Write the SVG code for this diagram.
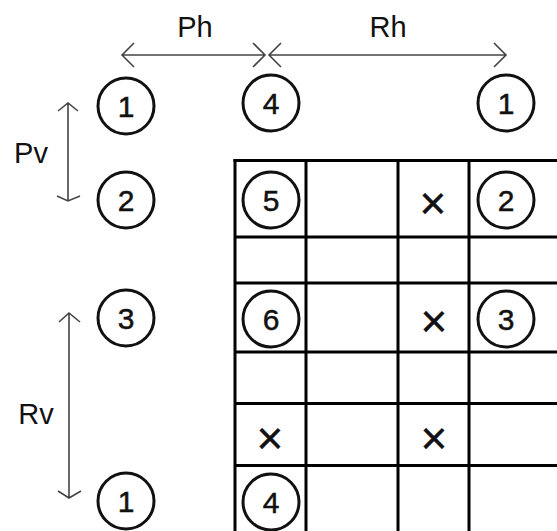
<svg xmlns="http://www.w3.org/2000/svg" width="557" height="531" viewBox="0 0 557 531">
  <style>
    .lbl { font-family: "Liberation Sans", Arial, sans-serif; font-size: 29px; fill: #111; text-anchor: middle; }
    .num { font-family: "Liberation Sans", Arial, sans-serif; font-size: 30px; fill: #111; stroke: #111; stroke-width: 0.5; text-anchor: middle; }
    .cross { font-family: "Liberation Sans", Arial, sans-serif; font-size: 46px; fill: #111; stroke: #111; stroke-width: 0.4; text-anchor: middle; }
    .ring { fill: none; stroke: #111; stroke-width: 3; }
    .grid line { stroke: #000; stroke-width: 3; }
    .dim { fill: none; stroke: #444; stroke-width: 1.6; }
  </style>
  <rect width="557" height="531" fill="#fff"/>

  <!-- table grid -->
  <g id="grid" class="grid">
    <line x1="233.5" y1="160.5" x2="557" y2="160.5"/>
    <line x1="235" y1="237" x2="557" y2="237"/>
    <line x1="235" y1="283" x2="557" y2="283"/>
    <line x1="235" y1="352" x2="557" y2="352"/>
    <line x1="235" y1="403.5" x2="557" y2="403.5"/>
    <line x1="235" y1="465.5" x2="557" y2="465.5"/>
    <line x1="235" y1="159" x2="235" y2="531"/>
    <line x1="306" y1="159" x2="306" y2="531"/>
    <line x1="398" y1="159" x2="398" y2="531"/>
    <line x1="469" y1="159" x2="469" y2="531"/>
  </g>

  <!-- dimension arrows -->
  <g id="connectors" class="dim">
    <path d="M122 55 H265 M134 43 L122 55 L134 67 M253 43 L265 55 L253 67"/>
    <path d="M269 55 H506 M281 43 L269 55 L281 67 M494 43 L506 55 L494 67"/>
    <path d="M68 103 V201 M58 111 L68 103 L78 111 M57 196 L68 201 L80 196"/>
    <path d="M69 313 V498 M59 322 L69 313 L80 322 M58 491 L69 498 L81 491"/>
  </g>

  <!-- dimension labels -->
  <g id="label-ph"><text class="lbl" x="195" y="37">Ph</text></g>
  <g id="label-rh"><text class="lbl" x="388" y="37">Rh</text></g>
  <g id="label-pv"><text class="lbl" x="31" y="163">Pv</text></g>
  <g id="label-rv"><text class="lbl" x="36" y="424">Rv</text></g>

  <!-- numbered markers outside the grid -->
  <g id="m-top-1"><circle class="ring" cx="126" cy="106" r="28"/><text class="num" x="126" y="117">1</text></g>
  <g id="m-top-4"><circle class="ring" cx="271" cy="103" r="28"/><text class="num" x="271" y="114">4</text></g>
  <g id="m-top-1b"><circle class="ring" cx="506" cy="103" r="28"/><text class="num" x="506" y="114">1</text></g>
  <g id="m-left-2"><circle class="ring" cx="126" cy="200" r="28"/><text class="num" x="126" y="211">2</text></g>
  <g id="m-left-3"><circle class="ring" cx="126" cy="318" r="28"/><text class="num" x="126" y="329">3</text></g>
  <g id="m-left-1"><circle class="ring" cx="126" cy="501" r="28"/><text class="num" x="126" y="512">1</text></g>

  <!-- numbered markers in the grid -->
  <g id="m-cell-5"><circle class="ring" cx="271" cy="200" r="28"/><text class="num" x="271" y="211">5</text></g>
  <g id="m-cell-2"><circle class="ring" cx="506" cy="200" r="28"/><text class="num" x="506" y="211">2</text></g>
  <g id="m-cell-6"><circle class="ring" cx="271" cy="319" r="28"/><text class="num" x="271" y="330">6</text></g>
  <g id="m-cell-3"><circle class="ring" cx="506" cy="319" r="28"/><text class="num" x="506" y="330">3</text></g>
  <g id="m-cell-4"><circle class="ring" cx="271" cy="502" r="28"/><text class="num" x="271" y="513">4</text></g>

  <!-- crossed cells -->
  <g id="x-r1"><text class="cross" x="433" y="219">×</text></g>
  <g id="x-r3"><text class="cross" x="434" y="337">×</text></g>
  <g id="x-r5a"><text class="cross" x="270" y="454">×</text></g>
  <g id="x-r5b"><text class="cross" x="434" y="454">×</text></g>
</svg>
